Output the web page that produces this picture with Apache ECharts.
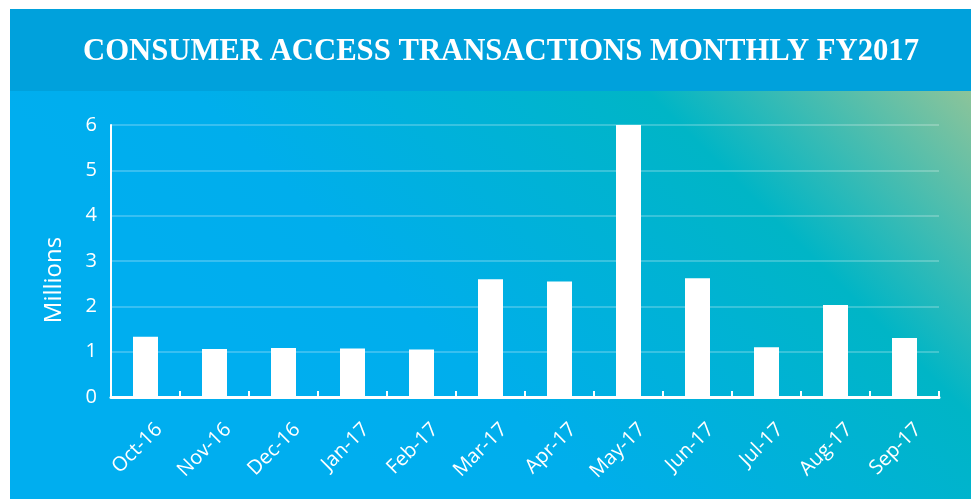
<!DOCTYPE html>
<html>
<head>
<meta charset="utf-8">
<title>Consumer Access Transactions Monthly FY2017</title>
<script src="https://cdn.jsdelivr.net/npm/echarts@6/dist/echarts.min.js"></script>
<style>
    html, body { margin: 0; padding: 0; background: #ffffff; }
    #chart { width: 971px; height: 499px; }
</style>
</head>
<body>
<div id="chart"></div>
<script>
// Chart data (millions of transactions)
const months = ['Oct-16', 'Nov-16', 'Dec-16', 'Jan-17', 'Feb-17', 'Mar-17',
                'Apr-17', 'May-17', 'Jun-17', 'Jul-17', 'Aug-17', 'Sep-17'];
const transactions = [1.33, 1.06, 1.08, 1.07, 1.05, 2.60, 2.55, 6.00, 2.62, 1.10, 2.03, 1.30];
const yTicks = [0, 1, 2, 3, 4, 5, 6];

const titleText = 'CONSUMER ACCESS TRANSACTIONS MONTHLY FY2017';
const axisTitle = 'Millions';

document.addEventListener('DOMContentLoaded', () => {
    const chart = echarts.init(document.getElementById('chart'));

    // Background: blue -> teal -> green, running bottom-left to top-right
    const panelFill = new echarts.graphic.LinearGradient(200, 300, 700, -200, [
        { offset: 0, color: '#00aeef' },
        { offset: 0.2, color: '#00aeec' },
        { offset: 0.655, color: '#00b5c6' },
        { offset: 0.98, color: '#8cc49a' },
        { offset: 1, color: '#8cc49a' }
    ], true);

    const option = {
        backgroundColor: '#ffffff',
        animation: false,
        textStyle: { fontFamily: 'Open Sans' },
        graphic: [
            {
                type: 'rect',
                z: -10,
                silent: true,
                shape: { x: 10, y: 91, width: 961, height: 408 },
                style: { fill: panelFill }
            },
            {
                type: 'rect',
                z: -10,
                silent: true,
                shape: { x: 10, y: 9, width: 961, height: 82 },
                style: { fill: '#00a1dc' }
            }
        ],
        title: {
            text: titleText,
            left: 496,
            top: 32,
            textAlign: 'center',
            textStyle: {
                color: '#ffffff',
                fontFamily: 'Liberation Serif',
                fontWeight: 'bold',
                fontSize: 30.7
            }
        },
        grid: {
            left: 111,
            right: 32,
            top: 125,
            bottom: 102
        },
        xAxis: {
            type: 'category',
            data: months,
            axisLine: {
                lineStyle: { color: '#ffffff', width: 3 }
            },
            axisTick: {
                show: true,
                inside: true,
                length: 6,
                lineStyle: { color: '#ffffff', width: 2 }
            },
            axisLabel: {
                color: '#ffffff',
                fontSize: 20,
                rotate: 45,
                margin: 16,
                // tall line box hung from the anchor pushes labels down-right, like the original
                verticalAlign: 'top',
                lineHeight: 38,
                interval: 0
            }
        },
        yAxis: {
            type: 'value',
            min: yTicks[0],
            max: yTicks[yTicks.length - 1],
            interval: 1,
            name: axisTitle,
            nameLocation: 'middle',
            nameRotate: 90,
            nameGap: 45,
            nameTextStyle: {
                color: '#ffffff',
                fontSize: 24,
                padding: [0, 38, 0, 0]
            },
            axisLine: {
                show: true,
                lineStyle: { color: '#ffffff', width: 2 }
            },
            axisTick: { show: false },
            axisLabel: {
                color: '#ffffff',
                fontSize: 20,
                margin: 14
            },
            splitLine: {
                lineStyle: { color: 'rgba(255,255,255,0.22)', width: 2 }
            }
        },
        series: [
            {
                name: 'Transactions',
                type: 'bar',
                data: transactions,
                barWidth: 25,
                itemStyle: { color: '#ffffff' }
            }
        ]
    };

    chart.setOption(option);
});
</script>
</body>
</html>
